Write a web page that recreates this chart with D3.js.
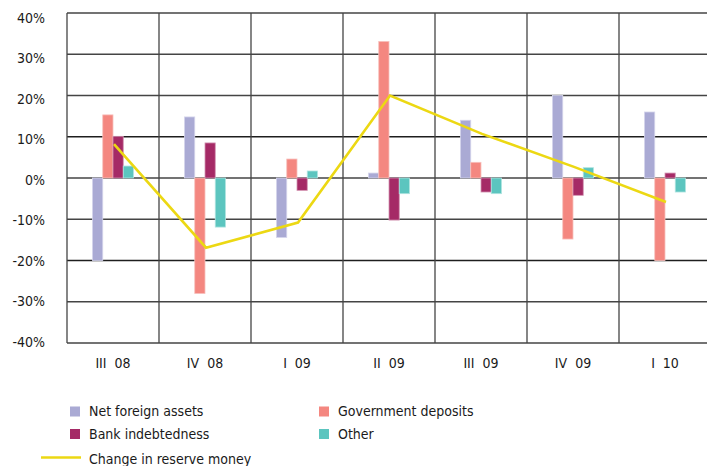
<!DOCTYPE html>
<html>
<head>
<meta charset="utf-8">
<script src="https://cdn.jsdelivr.net/npm/d3@7"></script>
<style>
  body { margin: 0; background: #fff; }
  text { font-family: "DejaVu Sans Condensed", "Liberation Sans", sans-serif; fill: #1a1a1a; }
</style>
</head>
<body>
<div id="chart"></div>
<script>
var quarters = ["III  08", "IV  08", "I  09", "II  09", "III  09", "IV  09", "I  10"];
var netForeignAssets = [-20, 14.8, -14.4, 1.2, 14, 20, 16];
var governmentDeposits = [15.3, -28, 4.6, 33.1, 3.8, -14.8, -20];
var bankIndebtedness = [10.1, 8.5, -3, -10.2, -3.4, -4.2, 1.2];
var other = [2.9, -11.9, 1.7, -3.8, -3.8, 2.5, -3.4];
var reserveMoney = [8.2, -16.9, -10.8, 20, 10.7, 2.7, -5.8];
var yTicks = [40, 30, 20, 10, 0, -10, -20, -30, -40];

var series = [
    { name: "Net foreign assets", values: netForeignAssets, color: "#aaaad4", stroke: "#d4d4ec" },
    { name: "Government deposits", values: governmentDeposits, color: "#f48780", stroke: "#f8c0bc" },
    { name: "Bank indebtedness", values: bankIndebtedness, color: "#a52a66", stroke: "#d394b2" },
    { name: "Other", values: other, color: "#5cc5bf", stroke: "#b0e4e0" }
];

var width = 707, height = 466;
var plotLeft = 67, plotTop = 13, plotRight = 711, plotBottom = 343;

var svg = d3.select("#chart").append("svg")
    .attr("width", width)
    .attr("height", height);

var x = d3.scaleBand().domain(quarters).range([plotLeft, plotRight]);
var y = d3.scaleLinear().domain([-40, 40]).range([plotBottom, plotTop]);
var xs = d3.scaleBand().domain(d3.range(series.length)).range([-20.5, 20.5]);

// grid
var grid = svg.append("g");
grid.selectAll("line.h").data(yTicks).enter().append("line")
    .attr("x1", plotLeft).attr("x2", plotRight)
    .attr("y1", d => y(d)).attr("y2", d => y(d))
    .attr("stroke", d => d === -20 || d === 10 ? "#1e1e1e" : "#444")
    .attr("stroke-width", 1.3);
grid.selectAll("line.v").data(quarters.concat([null])).enter().append("line")
    .attr("x1", (d, i) => plotLeft + i * x.bandwidth())
    .attr("x2", (d, i) => plotLeft + i * x.bandwidth())
    .attr("y1", plotTop).attr("y2", plotBottom)
    .attr("stroke", "#444")
    .attr("stroke-width", 1.3);

// y labels
svg.append("g").selectAll("text").data(yTicks).enter().append("text")
    .attr("x", 45)
    .attr("y", d => y(d) + 2 + d / 40 * 3)
    .attr("dy", "0.35em")
    .attr("text-anchor", "end")
    .attr("font-size", 14)
    .text(d => d + "%");

// x labels
svg.append("g").selectAll("text").data(quarters).enter().append("text")
    .attr("x", d => x(d) + x.bandwidth() / 2)
    .attr("y", 363)
    .attr("dy", "0.35em")
    .attr("text-anchor", "middle")
    .attr("font-size", 14)
    .style("white-space", "pre")
    .text(d => d);

// bars
series.forEach(function (s, si) {
    svg.append("g").selectAll("rect").data(s.values).enter().append("rect")
        .attr("x", (d, i) => x(quarters[i]) + x.bandwidth() / 2 + xs(si))
        .attr("width", xs.bandwidth())
        .attr("y", d => y(Math.max(0, d)))
        .attr("height", d => Math.abs(y(d) - y(0)))
        .attr("fill", s.color)
        .attr("stroke", s.stroke)
        .attr("stroke-width", 0.8);
});

// line
var line = d3.line()
    .x((d, i) => x(quarters[i]) + x.bandwidth() / 2 + 1)
    .y(d => y(d));
svg.append("path")
    .datum(reserveMoney)
    .attr("d", line)
    .attr("fill", "none")
    .attr("stroke", "#ecd813")
    .attr("stroke-width", 2.6);

// legend
var legend = svg.append("g");
var legendPos = [[70, 411.5], [319, 411.5], [70, 434], [319, 434]];
series.forEach(function (s, si) {
    var p = legendPos[si];
    legend.append("rect")
        .attr("x", p[0]).attr("y", p[1] - 5)
        .attr("width", 10).attr("height", 10)
        .attr("fill", s.color);
    legend.append("text")
        .attr("x", p[0] + 19).attr("y", p[1])
        .attr("dy", "0.35em")
        .attr("font-size", 14)
        .text(s.name);
});
legend.append("line")
    .attr("x1", 41).attr("x2", 81)
    .attr("y1", 457.5).attr("y2", 457.5)
    .attr("stroke", "#ecd813")
    .attr("stroke-width", 2.6);
legend.append("text")
    .attr("x", 89).attr("y", 459)
    .attr("dy", "0.35em")
    .attr("font-size", 14)
    .text("Change in reserve money");
</script>
</body>
</html>
